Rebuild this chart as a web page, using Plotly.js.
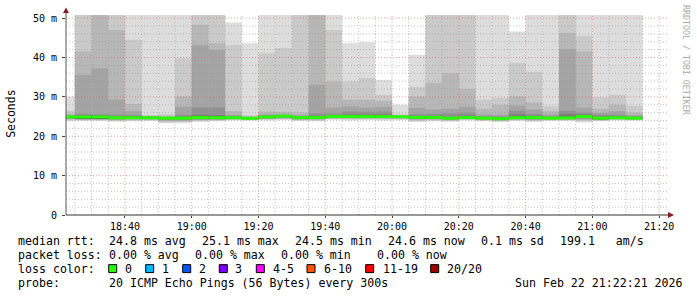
<!DOCTYPE html>
<html><head><meta charset="utf-8">
<script src="https://cdn.plot.ly/plotly-3.0.1.min.js"></script>
<style>html,body{margin:0;padding:0;background:#fff;}#chart{width:697px;height:297px;}</style>
</head><body><div id="chart"></div>
<script>
const day = '2026-02-22';
const times = ['18:20','18:25','18:30','18:35','18:40','18:45','18:50','18:55','19:00','19:05','19:10','19:15','19:20','19:25','19:30','19:35','19:40','19:45','19:50','19:55','20:00','20:05','20:10','20:15','20:20','20:25','20:30','20:35','20:40','20:45','20:50','20:55','21:00','21:05','21:10'];
// median rtt (ms) per 5-minute step
const median = [24.9,24.9,24.9,24.7,24.7,24.7,24.6,24.6,24.75,24.7,24.7,24.55,24.9,25.1,24.75,24.75,25.0,25.0,25.0,25.0,24.95,24.8,24.8,24.6,24.75,24.6,24.45,24.7,24.75,24.6,24.65,25.0,24.6,24.7,24.6];
// lost pings (of 20) per step
const lostPings = [0,0,0,0,0,0,0,0,0,0,0,0,0,0,0,0,0,0,0,0,0,0,0,0,0,0,0,0,0,0,0,0,0,0,0];
// sorted ping rtts (ms), rank 1 = fastest ... rank 20 = slowest
const ping01 = [23.8,23.9,23.9,23.7,23.8,23.9,23.3,23.3,23.6,23.8,24.0,24.0,24.0,24.1,23.9,23.8,24.2,24.0,24.1,24.0,24.1,23.6,23.8,23.7,24.0,23.8,23.6,23.9,23.6,23.9,23.9,23.5,23.9,24.0,24.0];
const ping02 = [24.1,24.1,24.1,23.9,24.0,24.1,23.5,23.6,23.9,24.0,24.2,24.1,24.2,24.3,24.1,24.0,24.4,24.3,24.3,24.3,24.3,23.9,24.0,23.9,24.2,24.0,23.8,24.1,23.9,24.1,24.1,23.8,24.0,24.2,24.1];
const ping03 = [24.3,24.2,24.2,24.1,24.2,24.2,23.8,23.8,24.1,24.1,24.3,24.2,24.4,24.5,24.2,24.2,24.5,24.5,24.5,24.5,24.5,24.1,24.2,24.1,24.3,24.1,24.0,24.2,24.1,24.2,24.2,24.1,24.1,24.3,24.2];
const ping04 = [24.4,24.3,24.3,24.2,24.3,24.3,24.0,24.0,24.2,24.2,24.35,24.25,24.5,24.6,24.3,24.3,24.6,24.6,24.6,24.6,24.6,24.3,24.3,24.2,24.4,24.2,24.1,24.3,24.2,24.3,24.3,24.3,24.2,24.35,24.3];
const ping05 = [24.5,24.35,24.35,24.3,24.4,24.4,24.2,24.2,24.3,24.3,24.4,24.3,24.55,24.7,24.35,24.4,24.7,24.7,24.7,24.7,24.7,24.4,24.4,24.3,24.45,24.3,24.2,24.4,24.3,24.35,24.35,24.5,24.25,24.4,24.35];
const ping06 = [24.6,24.4,24.4,24.4,24.45,24.45,24.3,24.3,24.4,24.4,24.45,24.35,24.6,24.8,24.4,24.45,24.75,24.75,24.75,24.75,24.75,24.5,24.5,24.35,24.5,24.35,24.25,24.45,24.4,24.4,24.4,24.6,24.3,24.45,24.4];
const ping07 = [24.7,24.45,24.45,24.5,24.5,24.5,24.4,24.4,24.5,24.5,24.5,24.4,24.65,24.85,24.45,24.5,24.8,24.8,24.8,24.8,24.8,24.6,24.6,24.4,24.55,24.4,24.3,24.5,24.5,24.45,24.45,24.7,24.35,24.5,24.45];
const ping08 = [24.75,24.5,24.5,24.55,24.55,24.55,24.45,24.45,24.6,24.55,24.55,24.45,24.7,24.9,24.5,24.6,24.85,24.85,24.85,24.85,24.85,24.65,24.65,24.45,24.6,24.45,24.35,24.55,24.6,24.5,24.5,24.8,24.4,24.55,24.5];
const ping09 = [24.8,24.6,24.6,24.6,24.6,24.6,24.5,24.5,24.65,24.6,24.6,24.5,24.8,25.0,24.55,24.65,24.9,24.9,24.9,24.9,24.9,24.7,24.7,24.5,24.65,24.5,24.4,24.6,24.65,24.52,24.55,24.9,24.45,24.6,24.52];
const ping10 = [24.85,24.8,24.8,24.65,24.65,24.65,24.55,24.55,24.7,24.65,24.65,24.52,24.85,25.05,24.7,24.7,24.95,24.95,24.95,24.95,24.92,24.75,24.75,24.55,24.7,24.55,24.42,24.65,24.7,24.56,24.6,24.95,24.5,24.65,24.56];
const ping11 = [24.95,25.0,25.0,24.75,24.75,24.75,24.65,24.65,24.8,24.75,24.75,24.58,24.95,25.15,24.8,24.8,25.05,25.05,25.05,25.05,24.98,24.85,24.85,24.65,24.8,24.65,24.48,24.75,24.8,24.64,24.7,25.05,24.7,24.75,24.64];
const ping12 = [25.0,25.05,25.05,24.8,24.8,24.8,24.7,24.7,24.9,24.85,24.8,24.6,25.0,25.2,24.85,24.85,25.1,25.1,25.1,25.1,25.0,24.9,24.9,24.7,24.85,24.7,24.5,24.8,24.85,24.68,24.75,25.1,24.75,24.8,24.68];
const ping13 = [25.05,25.1,25.1,24.85,24.85,24.85,24.75,24.8,25.0,24.95,24.85,24.65,25.05,25.25,24.9,24.9,25.15,25.2,25.2,25.2,25.02,24.95,24.95,24.75,24.9,24.75,24.55,24.9,24.9,24.72,24.85,25.2,24.8,24.85,24.72];
const ping14 = [25.1,25.15,25.15,24.9,24.95,24.9,24.8,24.9,25.1,25.05,24.9,24.7,25.1,25.3,24.95,25.0,25.2,25.3,25.3,25.3,25.04,25.0,25.0,24.85,25.0,24.8,24.65,25.0,25.0,24.8,25.0,25.3,24.85,24.95,24.8];
const ping15 = [25.1,25.3,25.3,25.1,25.1,24.95,24.85,25.0,25.5,25.4,25.0,24.75,25.2,25.3,25.0,25.2,25.4,25.6,25.6,25.6,25.05,25.2,25.2,25.0,25.3,24.9,24.8,25.6,25.2,24.9,25.7,25.6,25.0,25.1,24.9];
const ping16 = [25.2,25.7,25.6,25.5,25.4,25.0,24.9,25.5,27.3,27.3,25.2,24.8,25.3,25.4,25.1,25.8,25.8,26.3,26.2,26.3,25.1,25.6,25.7,25.8,26.0,25.1,25.0,26.5,25.7,25.1,26.5,26.0,25.5,25.5,25.1];
const ping17 = [25.4,35.6,37.3,29.3,26.4,25.1,25.0,27.5,43.2,41.9,25.5,24.9,25.6,25.6,25.4,33.1,27.3,27.6,27.3,27.5,25.2,27.2,26.8,27.0,27.5,25.6,25.5,27.8,26.8,25.6,42.1,27.3,25.9,26.4,25.4];
const ping18 = [25.7,41.5,52,47.0,28.2,25.2,25.2,30.1,48.3,43.6,26.4,25.1,26.3,26.2,26.0,52,33.9,29.3,29.3,29.0,25.3,30.1,33.5,36.0,32.0,27.0,28.0,30.1,28.6,26.4,46.2,41.6,27.0,28.0,26.0];
const ping19 = [26.5,53,54,53,44.5,25.4,25.6,39.8,53,52,43.2,25.4,41.1,42.4,53,54,47.0,33.9,34.8,30.5,25.7,32.5,53,53,53,29.3,29.7,38.6,36.4,27.6,53,45.5,29.9,30.5,27.7];
const ping20 = [30.1,55,56,55,54,53,54,53,55,54,48.9,43.6,54,53,55,56,54,43.6,43.9,34.3,28.0,40.7,55,55,55,54,54,46.6,54,54,55,54,54,54,54];

const yTickVals = [0,10,20,30,40,50];
const yTickText = ['0','10 m','20 m','30 m','40 m','50 m'];
const lossLabels = ['0','1','2','3','4-5','6-10','11-19','20/20'];
const lossColors = ['#26ff00','#00b8ff','#0059ff','#7e00ff','#ff00ff','#ff5500','#ff0000','#a00000'];
const rttLabel = 'median rtt:';
const rttStats = ['24.8 ms avg','25.1 ms max','24.5 ms min','24.6 ms now','0.1 ms sd','199.1   am/s'];
const lossLabel = 'packet loss:';
const lossStats = ['0.00 % avg','0.00 % max','0.00 % min','0.00 % now'];
const probeLabel = 'probe:';
const probeText = '20 ICMP Echo Pings (56 Bytes) every 300s';
const stampText = 'Sun Feb 22 21:22:21 2026';

const pings = [ping01,ping02,ping03,ping04,ping05,ping06,ping07,ping08,ping09,ping10,ping11,ping12,ping13,ping14,ping15,ping16,ping17,ping18,ping19,ping20];
const xs = times.map(t => day + ' ' + t);
const STEP = 300000;
const traces = [];
const half = pings.length / 2;
for (let i = 0; i < half; i++) {
  const lo = pings[i], hi = pings[pings.length - 1 - i];
  const c = Math.floor(190 / half * (half - (i + 1))) + 50;
  const h = c.toString(16).padStart(2, '0');
  traces.push({type:'bar', x:xs, base:lo, y:hi.map((v,k)=>v-lo[k]), offset:0, width:STEP,
    marker:{color:'#'+h+h+h, line:{width:0}}, hoverinfo:'skip', showlegend:false});
}
function lossIndex(n){ if(n===0)return 0; if(n===1)return 1; if(n===2)return 2; if(n===3)return 3; if(n<=5)return 4; if(n<=10)return 5; if(n<20)return 6; return 7; }
const MED_HALF = 0.38;
traces.push({type:'bar', x:xs, base:median.map(v=>v-MED_HALF), y:median.map(()=>2*MED_HALF), offset:0, width:STEP,
  marker:{color:lostPings.map(n=>lossColors[lossIndex(n)]), line:{width:0}}, hoverinfo:'skip', showlegend:false});

// pixel helpers for layout (plot area: x 66..667, y 15..215.3)
const L=66, W=601, B=215.3, H=200.3;
const fx = p => (p - L) / W;
const fy = p => (B - p) / H;
const MONO = 'DejaVu Sans Mono';
const minorCol = 'rgba(150,150,150,0.55)', majorCol = 'rgba(222,90,90,0.55)';
const shapes = [];
for (let v = 2; v <= 50; v += 2) {
  const major = v % 10 === 0;
  shapes.push({type:'line', xref:'paper', yref:'y', x0:0, x1:1, y0:v, y1:v, layer:'above',
    line:{color: major?majorCol:minorCol, width:1, dash:'1px,2px'}});
}
const t0 = new Date(day+'T18:25:00Z').getTime();
for (let k = 0; k < 36; k++) {
  const t = t0 + k*STEP;
  const d = new Date(t);
  const mm = d.getUTCMinutes();
  const s = day+' '+String(d.getUTCHours()).padStart(2,'0')+':'+String(mm).padStart(2,'0');
  if (s > day+' 21:22') break;
  const major = mm % 20 === 0;
  shapes.push({type:'line', xref:'x', yref:'paper', x0:s, x1:s, y0:0, y1:1, layer:'above',
    line:{color: major?majorCol:minorCol, width:1, dash:'1px,2px'}});
}
// axes with arrows
shapes.push({type:'line', xref:'paper', yref:'paper', x0:0, x1:fx(669), y0:0, y1:0, layer:'above', line:{color:'#333', width:1}});
shapes.push({type:'line', xref:'paper', yref:'paper', x0:0, x1:0, y0:0, y1:fy(10), layer:'above', line:{color:'#555', width:1}});
shapes.push({type:'path', xref:'paper', yref:'paper', layer:'above', line:{width:0}, fillcolor:'#801f1f',
  path:`M${fx(674)},${fy(B)} L${fx(668)},${fy(B-3)} L${fx(668)},${fy(B+3)} Z`});
shapes.push({type:'path', xref:'paper', yref:'paper', layer:'above', line:{width:0}, fillcolor:'#801f1f',
  path:`M${fx(L)},${fy(7.5)} L${fx(L-3)},${fy(13)} L${fx(L+3)},${fy(13)} Z`});

const annotations = [];
function txt(text, x, y, opts) {
  annotations.push(Object.assign({text:text.replace(/ /g,'\u00a0'), xref:'paper', yref:'paper', x:fx(x), y:fy(y),
    xanchor:'left', yanchor:'middle', showarrow:false, font:{family:MONO, size:11.6, color:'#000'}}, opts||{}));
}
const row = [241.5, 255.5, 269.5, 283.5];
txt(rttLabel, 16, row[0]);
[107,200,293,386,479,558].forEach((x,i)=>txt(rttStats[i], x, row[0]));
txt(lossLabel, 16, row[1]);
[107,193.3,279.3,375].forEach((x,i)=>txt(lossStats[i], x, row[1]));
txt('loss color:', 16, row[2]);
const boxX = [108.7,145.7,182.7,219.3,256.3,307,365.7,430.7];
const labX = [123.3,160,197,233.5,270.7,322,380.7,445.3];
lossLabels.forEach((lab,i)=>{
  shapes.push({type:'rect', xref:'paper', yref:'paper', x0:fx(boxX[i]), x1:fx(boxX[i]+8), y0:fy(265), y1:fy(273),
    fillcolor:lossColors[i], line:{color:'#000', width:1}});
  txt(lab, labX[i], row[2]);
});
txt(probeLabel, 16, row[3]);
txt(probeText, 107, row[3]);
txt(stampText, 513, row[3]);
annotations.push({text:'Seconds', xref:'paper', yref:'paper', x:fx(11), y:fy(114), textangle:-90,
  xanchor:'center', yanchor:'middle', showarrow:false, font:{family:MONO, size:11.5, color:'#000'}});
annotations.push({text:'RRDTOOL / TOBI OETIKER'.replace(/ /g,'\u00a0'), xref:'paper', yref:'paper', x:fx(686), y:fy(60), textangle:90,
  xanchor:'center', yanchor:'middle', showarrow:false, font:{family:MONO, size:8.3, color:'#aaaaaa'}});

const layout = {
  width:697, height:297, margin:{l:L, r:697-L-W, t:15, b:297-215.3}, autosize:false,
  paper_bgcolor:'#ffffff', plot_bgcolor:'#ffffff', barmode:'overlay', showlegend:false,
  font:{family:MONO, size:10, color:'#000'},
  xaxis:{type:'date', range:[day+' 18:22:21', day+' 21:22:21'], tick0:day+' 18:00', dtick:1200000,
    tickformat:'%H:%M', showgrid:false, zeroline:false, showline:false, ticks:'outside', ticklen:2,
    tickcolor:'#444', tickfont:{family:MONO, size:10, color:'#000'}, fixedrange:true},
  yaxis:{range:[0,50.8], tickvals:yTickVals, ticktext:yTickText, showgrid:false, zeroline:false, showline:false,
    ticks:'outside', ticklen:3, tickcolor:'#444', tickfont:{family:MONO, size:10, color:'#000'},
    ticklabelstandoff:3, fixedrange:true},
  shapes:shapes, annotations:annotations
};
Plotly.newPlot('chart', traces, layout, {staticPlot:true, displayModeBar:false});
</script></body></html>
